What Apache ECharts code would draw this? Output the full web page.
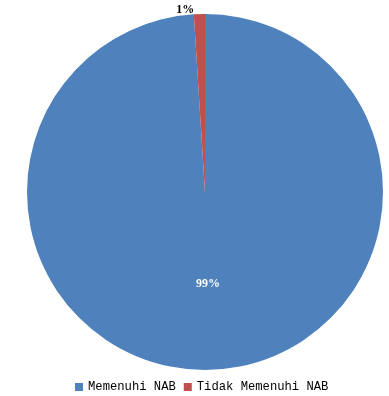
<!DOCTYPE html>
<html><head><meta charset="utf-8">
<script src="https://cdn.jsdelivr.net/npm/echarts@6/dist/echarts.min.js"></script>
<style>html,body{margin:0;padding:0;background:#fff}#c{width:389px;height:396px}</style>
</head><body><div id="c"></div>
<script>
const categories = ['Memenuhi NAB', 'Tidak Memenuhi NAB'];
const values = [99, 1];
const colors = ['#4F81BD', '#C0504D'];

const chart = echarts.init(document.getElementById('c'), null, {renderer: 'canvas'});
chart.setOption({
  animation: false,
  legend: {
    top: 376,
    left: 70,
    itemWidth: 8,
    itemHeight: 8,
    itemGap: 8,
    icon: 'rect',
    textStyle: {fontFamily: 'Liberation Mono', fontSize: 12.2, color: '#000'},
    data: categories
  },
  series: [{
    type: 'pie',
    center: [205, 192],
    radius: 178,
    startAngle: 90,
    clockwise: true,
    color: colors,
    itemStyle: {borderWidth: 0},
    labelLine: {show: false, length: 4, length2: 0},
    data: categories.map((n, i) => ({
      name: n,
      value: values[i],
      label: i === 0 ? {
        show: true, position: 'inner', formatter: '{d}%',
        color: '#fff', fontWeight: 'bold', fontFamily: 'Liberation Serif', fontSize: 12
      } : {
        show: true, position: 'outside', formatter: '{d}%',
        color: '#000', fontWeight: 'bold', fontFamily: 'Liberation Serif', fontSize: 12
      }
    }))
  }]
});
</script></body></html>
